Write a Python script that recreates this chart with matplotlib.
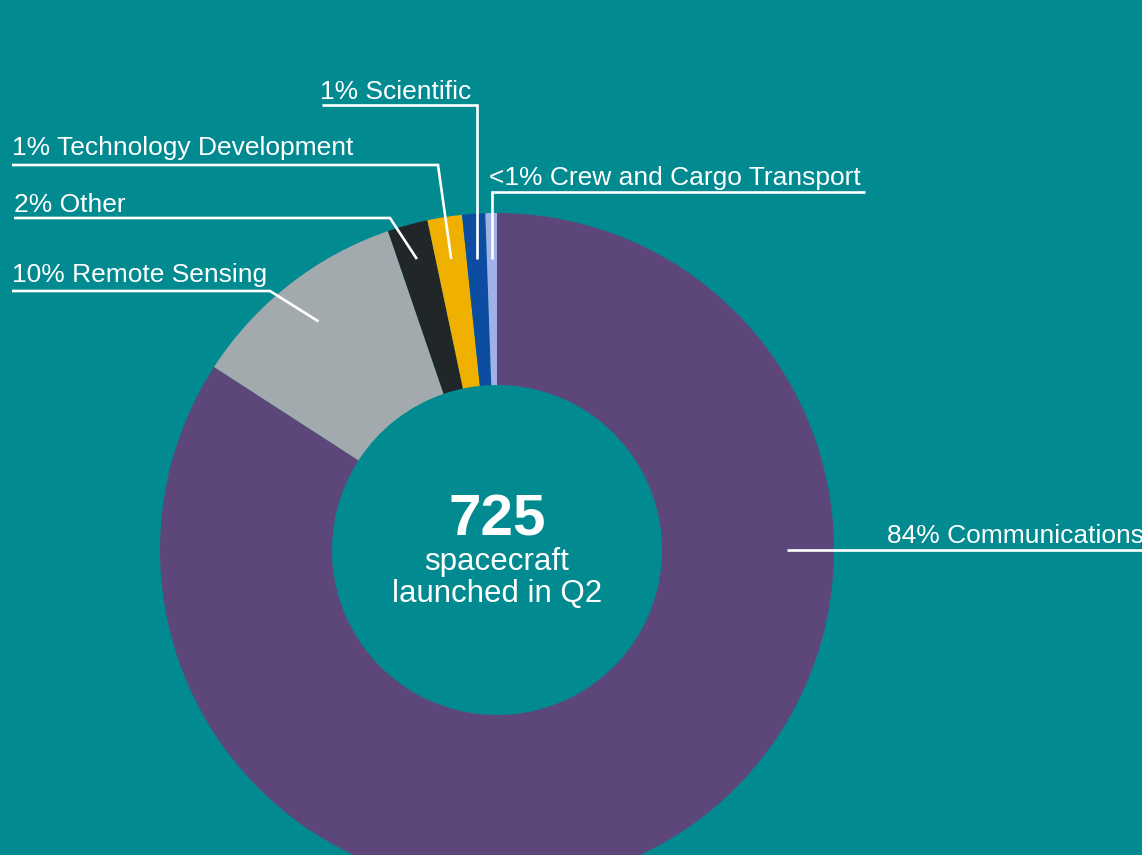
import numpy as np
import matplotlib
matplotlib.use('Agg')
from matplotlib import pyplot as plt

# spacecraft launched in Q2, by mission type (clockwise from 12 o'clock)
categories = ['Communications', 'Remote Sensing', 'Other',
              'Technology Development', 'Scientific', 'Crew and Cargo Transport']
counts = [610, 77, 14, 12, 8, 4]
pct_labels = ['84%', '10%', '2%', '1%', '1%', '<1%']
colors = ['#5D467A', '#A3AAAD', '#212629', '#F0B000', '#0C4DA2', '#A2B0E8']
total_label = '725'

BG = '#028A91'
W, H = 1142, 855
CX, CY, R_OUT, R_IN = 497, 550, 337, 165

# label layout, in pixels from the top-left: text x, text baseline y,
# underline y, underline left / right ends
layout = {
    'Communications':           dict(tx=887, ty=543, uy=551, x0=None, x1=1142),
    'Remote Sensing':           dict(tx=12, ty=282, uy=291, x0=12, x1=270),
    'Other':                    dict(tx=14, ty=212, uy=218, x0=14, x1=390),
    'Technology Development':   dict(tx=12, ty=155, uy=165, x0=12, x1=438),
    'Scientific':               dict(tx=320, ty=99, uy=105, x0=322, x1=None),
    'Crew and Cargo Transport': dict(tx=489, ty=185, uy=192, x0=None, x1=865),
}
TOP_END_Y = 259   # leader lines of the thin top wedges stop on this row


def py(y):
    return H - y


def main():
    plt.rcParams['font.family'] = ['Liberation Sans', 'DejaVu Sans']
    fig = plt.figure(figsize=(W / 100, H / 100), dpi=100, facecolor=BG)
    ax = fig.add_axes([0, 0, 1, 1])
    ax.set_facecolor(BG)

    wedges, _ = ax.pie(counts, colors=colors, startangle=90, counterclock=False,
                       center=(CX, py(CY)), radius=R_OUT, frame=True,
                       wedgeprops=dict(width=R_OUT - R_IN, linewidth=0))
    ax.set_xlim(0, W)
    ax.set_ylim(0, H)
    ax.set_aspect('equal')
    ax.axis('off')

    for w, cat, pct in zip(wedges, categories, pct_labels):
        L = layout[cat]
        if cat == 'Communications':
            ang = 0.0
        else:
            ang = np.deg2rad((w.theta1 + w.theta2) / 2)
        if cat in ('Communications', 'Remote Sensing'):
            r_end = 290
        else:
            r_end = (CY - TOP_END_Y) / np.sin(ang)
        ex = CX + r_end * np.cos(ang)
        ey = CY - r_end * np.sin(ang)
        if cat == 'Communications':
            xs = [ex, L['x1']]
            ys = [ey, ey]
        elif cat == 'Scientific':
            xs = [L['x0'], ex, ex]
            ys = [L['uy'], L['uy'], ey]
        elif cat == 'Crew and Cargo Transport':
            xs = [L['x1'], ex, ex]
            ys = [L['uy'], L['uy'], ey]
        else:
            xs = [L['x0'], L['x1'], ex]
            ys = [L['uy'], L['uy'], ey]
        ax.plot(xs, [py(v) for v in ys], color='white', lw=1.9,
                solid_capstyle='butt', solid_joinstyle='miter')
        ax.text(L['tx'], py(L['ty']), pct + ' ' + cat, color='white',
                fontsize=19, ha='left', va='baseline')

    # centre text
    ax.text(CX, py(535), total_label, color='white', fontsize=42,
            fontweight='bold', ha='center', va='baseline')
    ax.text(CX, py(570), 'spacecraft', color='white', fontsize=22.5,
            ha='center', va='baseline')
    ax.text(CX, py(602), 'launched in Q2', color='white', fontsize=22.5,
            ha='center', va='baseline')

    fig.savefig('out.png', dpi=100, facecolor=BG)
    plt.close(fig)


if __name__ == '__main__':
    main()
